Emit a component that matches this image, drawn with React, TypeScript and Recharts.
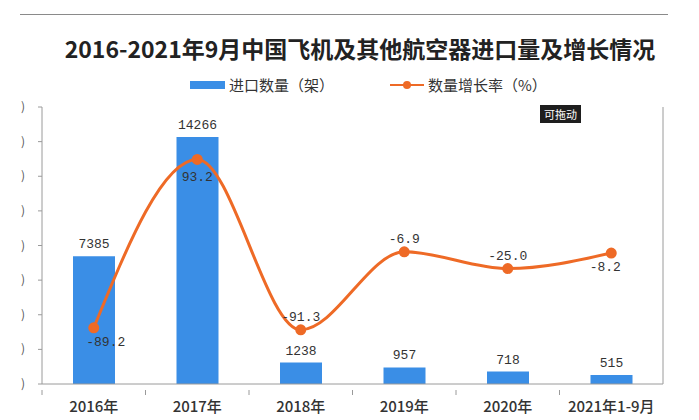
import { ComposedChart, Bar, Line, XAxis, YAxis, LabelList } from 'recharts';

const categories = ['2016年', '2017年', '2018年', '2019年', '2020年', '2021年1-9月'];
const importCount = [7385, 14266, 1238, 957, 718, 515];
const growthRate = [-89.2, 93.2, -91.3, -6.9, -25.0, -8.2];
const leftTicks = [0, 2000, 4000, 6000, 8000, 10000, 12000, 14000, 16000];
const rightTicks = [-150, -100, -50, 0, 50, 100, 150];

const data = categories.map((name, i) => ({
  name,
  count: importCount[i],
  rate: growthRate[i],
}));

const BAR = '#3a8ee6';
const LINE = '#ee6a26';
const AXIS = '#9a9a9a';
const NUM_FONT = '"Liberation Mono", "DejaVu Sans Mono", monospace';
const CJK_FONT = '"Noto Sans CJK SC", "Noto Sans", sans-serif';
const BAND = (663 - 42) / categories.length;

// rate labels sit above or below the dot depending on the point
function RateLabel(props: any) {
  const { x, y, value, index } = props;
  const below = index === 0 || index === 1 || index === 5;
  const dx = index === 0 ? 12 : index === 5 ? -6 : 0;
  const dy = index === 1 ? 22 : below ? 18 : -9;
  return (
    <text x={x + dx} y={y + dy} textAnchor="middle" fontFamily={NUM_FONT} fontSize={13} fill="#333">
      {Number(value).toFixed(1)}
    </text>
  );
}

function LeftTick(props: any) {
  const { x, y } = props;
  return (
    <g>
      <line x1={x + 4} x2={x + 8} y1={y} y2={y} stroke={AXIS} />
      <text x={x - 13} y={y + 4} fontSize={12} fill="#555" fontFamily={CJK_FONT}>)</text>
    </g>
  );
}

// tick marks fall between categories, labels at the centre
function CategoryTick(props: any) {
  const { x, y, payload } = props;
  const edge = x - BAND / 2;
  return (
    <g>
      <line x1={edge} x2={edge} y1={y - 2} y2={y + 3} stroke={AXIS} />
      <text x={x} y={y + 20} textAnchor="middle" fontSize={15} fontWeight={500} fill="#333" fontFamily={CJK_FONT}>
        {payload.value}
      </text>
    </g>
  );
}

export default function App() {
  return (
    <div style={{ position: 'absolute', left: 0, top: 0, width: 699, height: 420, background: '#fff', overflow: 'hidden' }}>
      <div style={{ position: 'absolute', left: 20, top: 14, width: 648, height: 1, background: '#8a8a8a' }} />
      <div
        style={{
          position: 'absolute', left: 40, width: 640, top: 31, textAlign: 'center',
          fontFamily: CJK_FONT, fontWeight: 'bold', fontSize: 23, color: '#222', whiteSpace: 'nowrap',
        }}
      >
        2016-2021年9月中国飞机及其他航空器进口量及增长情况
      </div>
      <div style={{ position: 'absolute', top: 74, left: 190, display: 'flex', alignItems: 'center', fontFamily: CJK_FONT, fontSize: 15, color: '#333' }}>
        <span style={{ display: 'inline-block', width: 35, height: 8, background: BAR, marginRight: 4 }} />
        <span>进口数量（架）</span>
        <span style={{ display: 'inline-block', width: 34, height: 10, position: 'relative', marginLeft: 56, marginRight: 4 }}>
          <span style={{ position: 'absolute', left: 0, top: 4, width: 34, height: 2, background: LINE }} />
          <span style={{ position: 'absolute', left: 13, top: 1, width: 8, height: 8, borderRadius: 4, background: LINE }} />
        </span>
        <span>数量增长率（%）</span>
      </div>
      <div
        style={{
          position: 'absolute', left: 540, top: 105, width: 41, height: 18, background: '#1e1e1e',
          color: '#fff', fontFamily: CJK_FONT, fontSize: 11, lineHeight: '18px', textAlign: 'center',
        }}
      >
        可拖动
      </div>
      <div style={{ position: 'absolute', left: 0, top: 0 }}>
        <ComposedChart width={699} height={420} data={data} margin={{ top: 107, right: 0, bottom: 0, left: 0 }}>
          <XAxis
            dataKey="name"
            height={36}
            stroke={AXIS}
            tickLine={false}
            tick={<CategoryTick />}
            interval={0}
          />
          <YAxis
            yAxisId="left"
            width={42}
            domain={[0, 16000]}
            ticks={leftTicks}
            stroke={AXIS}
            tickLine={false}
            tick={<LeftTick />}
          />
          <YAxis
            yAxisId="right"
            orientation="right"
            width={36}
            domain={[-150, 150]}
            ticks={rightTicks}
            stroke={AXIS}
            tickSize={4}
            tickLine={{ stroke: AXIS }}
            tick={false}
          />
          <Bar yAxisId="left" dataKey="count" fill={BAR} barSize={42} isAnimationActive={false}>
            <LabelList dataKey="count" position="top" offset={8} fill="#333" fontSize={13} fontFamily={NUM_FONT} />
          </Bar>
          <Line
            yAxisId="right"
            type="monotone"
            dataKey="rate"
            stroke={LINE}
            strokeWidth={3}
            dot={{ r: 4, fill: LINE, stroke: LINE }}
            isAnimationActive={false}
          >
            <LabelList dataKey="rate" content={<RateLabel />} />
          </Line>
        </ComposedChart>
      </div>
    </div>
  );
}
